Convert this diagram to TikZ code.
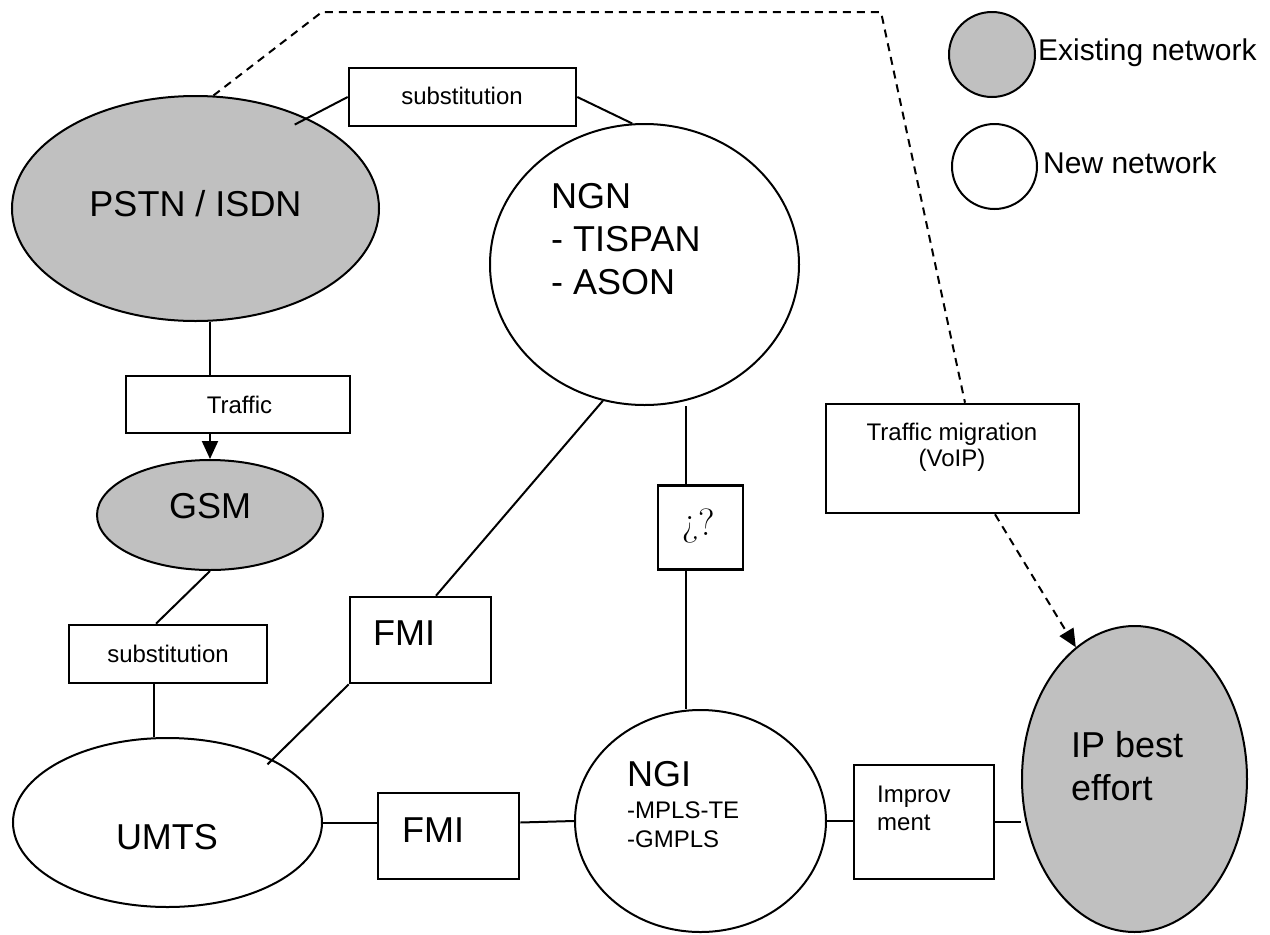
\documentclass[tikz,border=0pt]{standalone}
\usepackage{fontspec}
\setmainfont{Liberation Sans}
\newfontfamily\qfont{Latin Modern Roman}
\usetikzlibrary{shapes.geometric,arrows.meta,calc}
\definecolor{netgray}{HTML}{C0C0C0}
\begin{document}
\begin{tikzpicture}[x=1pt,y=-1pt,
  net/.style={ellipse, draw, line width=2pt, inner sep=0pt},
  exist/.style={net, fill=netgray},
  newnet/.style={net, fill=white},
  box/.style={rectangle, draw, line width=2.6pt, inner sep=0pt, fill=white},
  big/.style={font=\fontsize{36}{42}\selectfont, inner sep=0pt},
  small/.style={font=\fontsize{24}{28}\selectfont, inner sep=0pt},
  leg/.style={font=\fontsize{30}{36}\selectfont, inner sep=0pt},
  link/.style={line width=2pt},
  migline/.style={line width=2pt, dash pattern=on 8pt off 6pt},
  tip/.style={-{Triangle[length=18pt,width=16pt]}}
]
\useasboundingbox (0,0) rectangle (1270,935);

% networks
\node[exist, minimum width=367pt, minimum height=225pt] (pstn) at (195.5,208.5) {};
\node[newnet, minimum width=309pt, minimum height=281pt] (ngn) at (644.5,264.5) {};
\node[exist, minimum width=226pt, minimum height=110pt] (gsm) at (210,515) {};
\node[newnet, minimum width=309pt, minimum height=169pt] (umts) at (167.5,822.5) {};
\node[newnet, minimum width=251pt, minimum height=222pt] (ngi) at (700.5,821) {};
\node[exist, minimum width=225pt, minimum height=306pt] (ip) at (1134.5,779) {};

% legend
\node[exist, minimum width=86pt, minimum height=85pt] (legE) at (992,54.5) {};
\node[newnet, minimum width=85pt, minimum height=85pt] (legN) at (994.5,166.5) {};
\node[leg, anchor=base west] (legET) at (1038,60) {Existing network};
\node[leg, anchor=base west] (legNT) at (1043,173) {New network};

% boxes
\node[box, minimum width=227pt, minimum height=58pt] (sub1) at (462.5,97) {};
\node[box, minimum width=224pt, minimum height=57pt] (traffic) at (238,404.5) {};
\node[box, minimum width=198pt, minimum height=58pt] (sub2) at (168,654) {};
\node[box, minimum width=141pt, minimum height=86pt] (fmi1) at (420.5,640) {};
\node[box, minimum width=141pt, minimum height=86pt] (fmi2) at (448.5,836) {};
\node[box, minimum width=85pt, minimum height=84pt] (q) at (700.5,527.5) {};
\node[box, minimum width=140pt, minimum height=114pt] (impr) at (924,822) {};
\node[box, minimum width=253pt, minimum height=109pt] (tm) at (952.5,458.5) {};

% texts
\node[big, anchor=base] (pstnT) at (195.5,216) {PSTN / ISDN};
\node[big, anchor=base west] (ngnT1) at (551,208) {NGN};
\node[big, anchor=base west] (ngnT2) at (551,251) {- TISPAN};
\node[big, anchor=base west] (ngnT3) at (551,294) {- ASON};
\node[big, anchor=base] (gsmT) at (210,518) {GSM};
\node[big, anchor=base] (umtsT) at (167,849) {UMTS};
\node[big, anchor=base west] (ngiT1) at (627,786) {NGI};
\node[small, anchor=base west] (ngiT2) at (627,818) {-MPLS-TE};
\node[small, anchor=base west] (ngiT3) at (627,847) {-GMPLS};
\node[big, anchor=base west] (ipT1) at (1071,757) {IP best};
\node[big, anchor=base west] (ipT2) at (1071,800) {effort};
\node[small, anchor=base] (sub1T) at (462,104) {substitution};
\node[small, anchor=base] (trafT) at (239.5,413) {Traffic};
\node[small, anchor=base] (sub2T) at (168,662) {substitution};
\node[big, anchor=base west] (fmi1T) at (373,645) {FMI};
\node[big, anchor=base west] (fmi2T) at (402,842) {FMI};
\node[small, anchor=base west] (imprT1) at (877,802) {Improv};
\node[small, anchor=base west] (imprT2) at (877,830) {ment};
\node[small, anchor=base] (tmT1) at (952,440) {Traffic migration};
\node[small, anchor=base] (tmT2) at (952,466) {(VoIP)};
\node[inner sep=0pt, font=\qfont\fontsize{38}{44}\selectfont] (qT) at (698.5,526.5) {¿?};

% connectors
\coordinate (d1) at (322,12);
\coordinate (d2) at (881,12);
\coordinate (qtop) at ($(q.north)+(-14.5,0)$);
\coordinate (qbot) at ($(q.south)+(-14.5,0)$);

\draw[link, shorten <=-14pt] (pstn.39) -- (sub1.west);
\draw[link] (sub1.east) -- (ngn.95.5);
\draw[link] (gsm.north |- pstn.south) -- (gsm.north |- traffic.north);
\draw[link, tip] (gsm.north |- traffic.south) -- (gsm.north);
\draw[link] (gsm.south) -- ($(sub2.north)+(-12,0)$);
\draw[link] ($(sub2.south)+(-14,0)$) -- ($(umts.north)+(-13.5,0)$);
\draw[link] (ngn.253) -- ($(fmi1.north)+(15.5,0)$);
\draw[link, shorten >=-7pt] (fmi1.south west) -- (umts.31);
\draw[link] (umts.east) -- (umts.east -| fmi2.west);
\draw[link] (fmi2.east |- umts.east) -- (ngi.west);
\draw[link] (ngi.east) -- (ngi.east -| impr.west);
\draw[link] (impr.east) -- (impr.east -| ip.west);
\draw[link] (ngn.south -| qtop) -- (qtop);
\draw[link] (qbot) -- (qbot |- ngi.north);
\draw[migline] (pstn.81.6) -- (d1) -- (d2) -- ($(tm.north)+(12.5,0)$);
\draw[migline, tip] ($(tm.south)+(42.5,0)$) -- (ip.114);
\end{tikzpicture}
\end{document}
